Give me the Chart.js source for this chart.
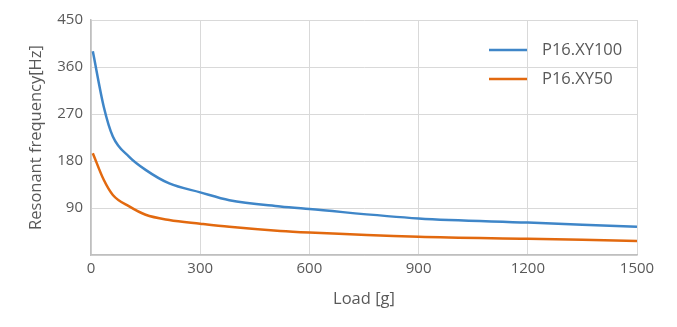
<!DOCTYPE html>
<html>
<head>
<meta charset="UTF-8">
<script src="https://cdn.jsdelivr.net/npm/chart.js"></script>
<style>
  html, body { margin: 0; padding: 0; background: #fff; }
  #wrap { width: 677px; height: 327px; }
</style>
</head>
<body>
<div id="wrap"><canvas id="c" width="677" height="327"></canvas></div>
<script>
  // load [g] and resonant frequency [Hz]
  const loads = [5, 35, 60, 105, 150, 215, 300, 380, 520, 600, 900, 1200, 1500];
  const xy100 = [390, 284, 227, 188, 163, 137, 120, 105, 93, 88, 70, 62, 54];
  const xy50 = [195, 144, 115, 93, 77, 67, 60, 54, 46, 43, 35, 31, 27];
  const seriesNames = ['P16.XY100', 'P16.XY50'];
  const seriesColors = ['#3f86c8', '#e2690f'];

  const FONT = '"Open Sans", "Noto Sans", sans-serif';
  const TXT = '#595959';

  const toPoints = (ys) => loads.map((x, i) => ({ x: x, y: ys[i] }));

  // legend drawn inside the plot, top right
  const innerLegend = {
    id: 'innerLegend',
    afterDraw(chart) {
      const ctx = chart.ctx;
      ctx.save();
      chart.data.datasets.forEach((ds, i) => {
        const y = 50 + i * 29;
        ctx.strokeStyle = ds.borderColor;
        ctx.lineWidth = 2.5;
        ctx.beginPath();
        ctx.moveTo(489, y);
        ctx.lineTo(527, y);
        ctx.stroke();
        ctx.fillStyle = TXT;
        ctx.font = '16.5px ' + FONT;
        ctx.textBaseline = 'middle';
        ctx.fillText(ds.label, 542, y);
      });
      ctx.restore();
    }
  };

  new Chart(document.getElementById('c'), {
    type: 'line',
    data: {
      datasets: [
        { label: seriesNames[0], data: toPoints(xy100), borderColor: seriesColors[0] },
        { label: seriesNames[1], data: toPoints(xy50), borderColor: seriesColors[1] }
      ]
    },
    options: {
      responsive: false,
      animation: false,
      layout: { padding: { top: 20, right: 40, left: 0, bottom: 0 } },
      elements: {
        point: { radius: 0 },
        line: { borderWidth: 2.5, cubicInterpolationMode: 'monotone', fill: false }
      },
      plugins: { legend: { display: false }, tooltip: { enabled: false } },
      scales: {
        x: {
          type: 'linear', min: 0, max: 1500,
          afterFit: (s) => { s.height = 72; },
          ticks: { stepSize: 300, color: TXT, font: { family: FONT, size: 15 }, padding: 5, maxRotation: 0,
                   callback: (v) => String(v) },
          grid: { color: '#d9d9d9', lineWidth: 1, drawTicks: false },
          border: { color: '#bfbfbf', width: 1.5 },
          title: { display: true, text: 'Load [g]', color: TXT, font: { family: FONT, size: 16.5 }, padding: { top: 0, bottom: 18 } }
        },
        y: {
          min: 0, max: 450,
          afterFit: (s) => { s.width = 91; },
          ticks: { stepSize: 90, color: TXT, font: { family: FONT, size: 15 }, padding: 8,
                   callback: (v) => v === 0 ? '' : String(v) },
          grid: { color: '#d9d9d9', lineWidth: 1, drawTicks: false },
          border: { color: '#bfbfbf', width: 1.5 },
          title: { display: true, text: 'Resonant frequency[Hz]', color: TXT, font: { family: FONT, size: 16.5 }, padding: { top: 26, bottom: 0 } }
        }
      }
    },
    plugins: [innerLegend]
  });
</script>
</body>
</html>
